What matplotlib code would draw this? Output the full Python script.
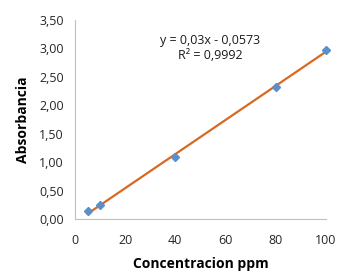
import matplotlib
matplotlib.use("Agg")
import matplotlib.pyplot as plt
import numpy as np
from matplotlib.ticker import FuncFormatter

conc = [5, 10, 40, 80, 100]
absorb = [0.14, 0.24, 1.09, 2.33, 2.97]
slope = 0.03
intercept = -0.0573

plt.rcParams['font.family'] = ['Open Sans', 'DejaVu Sans']

fig = plt.figure(figsize=(3.57, 2.78), dpi=100)
ax = fig.add_axes([0.21, 0.212, 0.703, 0.716])

xs = np.array([min(conc), max(conc)])
ax.plot(xs, slope * xs + intercept, color='#D9691F', lw=1.6, zorder=2)
ax.plot(conc, absorb, linestyle='none', marker='D', ms=4.5, color='#5B8FC9',
        zorder=3, clip_on=False)

ax.set_xlim(0, 100)
ax.set_ylim(0, 3.5)
ax.set_xticks([0, 20, 40, 60, 80, 100])
ax.set_yticks(np.arange(0, 3.51, 0.5))
ax.yaxis.set_major_formatter(FuncFormatter(lambda v, p: f"{v:.2f}".replace('.', ',')))

for s in ['top', 'right']:
    ax.spines[s].set_visible(False)
for s in ['left', 'bottom']:
    ax.spines[s].set_color('#BFBFBF')
ax.tick_params(length=0, labelsize=9, colors='#262626', pad=8)
ax.tick_params(axis='x', pad=11)

ax.set_xlabel('Concentracion ppm', fontsize=10, fontweight='bold', labelpad=7)
ax.set_ylabel('Absorbancia', fontsize=10, fontweight='bold', labelpad=7)

ax.text(0.54, 0.86, 'y = 0,03x - 0,0573\nR² = 0,9992', transform=ax.transAxes,
        ha='center', va='center', fontsize=9, linespacing=1.25, color='#1a1a1a')

fig.savefig('out.png', dpi=100)
